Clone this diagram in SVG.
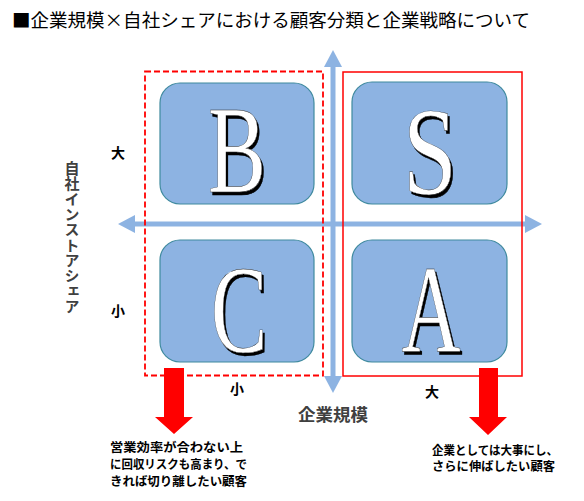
<svg xmlns="http://www.w3.org/2000/svg" width="584" height="501" viewBox="0 0 584 501">
<defs>
<filter id="shadow" x="-20%" y="-20%" width="150%" height="150%">
<feOffset in="SourceAlpha" dx="3" dy="3" result="off"/>
<feFlood flood-color="#000"/>
<feComposite in2="off" operator="in" result="sh"/>
<feMerge><feMergeNode in="sh"/><feMergeNode in="SourceGraphic"/></feMerge>
</filter>
<style>
.jp{font-family:"Noto Sans CJK JP","Noto Sans",sans-serif;}
.box{fill:#8DB3E2;stroke:#3F8A9E;stroke-width:1.2;}
.axis{stroke:#8DB3E2;stroke-width:5;fill:none;}
.axhead{fill:#8DB3E2;}
.letter{font-family:"Liberation Serif","Times New Roman",serif;font-size:124px;text-anchor:middle;fill:#fff;stroke:#222;stroke-width:0.4;filter:url(#shadow);}
.lbl{font-size:14px;font-weight:bold;fill:#000;text-anchor:middle;}
.note{font-size:12px;font-weight:bold;fill:#000;}
.red{fill:#FF0000;}
</style>
</defs>
<rect width="584" height="501" fill="#fff"/>
<text id="title" class="jp" x="12" y="27" font-size="18" fill="#000" textLength="518" lengthAdjust="spacingAndGlyphs">■企業規模×自社シェアにおける顧客分類と企業戦略について</text>

<g id="connectors">
<line class="axis" x1="133" y1="224" x2="527" y2="224"/>
<polygon class="axhead" points="118,224 135,215 135,233"/>
<polygon class="axhead" points="542,224 525,215 525,233"/>
<line class="axis" x1="333" y1="66" x2="333" y2="378"/>
<polygon class="axhead" points="333,50 324,67 342,67"/>
<polygon class="axhead" points="333,393 324,376 342,376"/>
<polygon class="red" points="164,368 184,368 184,417 193,417 174,434 155,417 164,417"/>
<polygon class="red" points="479,368 498,368 498,417 507,417 488,435 469,417 479,417"/>
</g>

<g id="group-low">
<rect x="145" y="71.5" width="178" height="304" fill="none" stroke="#FF0000" stroke-width="1.8" stroke-dasharray="6,3"/>
</g>
<g id="group-high">
<rect x="343" y="72" width="179" height="304" fill="none" stroke="#FF0000" stroke-width="1.5"/>
</g>

<g id="node-B">
<rect class="box" x="160" y="83" width="154" height="121" rx="20"/>
<text class="letter" transform="translate(237,192) scale(0.7,1)">B</text>
</g>
<g id="node-S">
<rect class="box" x="352" y="82" width="155" height="122" rx="20"/>
<text class="letter" transform="translate(430,194) scale(0.78,1)">S</text>
</g>
<g id="node-C">
<rect class="box" x="160" y="240" width="154" height="122" rx="20"/>
<text class="letter" transform="translate(239,352) scale(0.68,1)">C</text>
</g>
<g id="node-A">
<rect class="box" x="352" y="240" width="155" height="122" rx="20"/>
<text class="letter" transform="translate(431,352) scale(0.66,1)">A</text>
</g>

<g id="labels">
<text class="jp lbl" x="118" y="158">大</text>
<text class="jp lbl" x="118" y="316">小</text>
<text class="jp lbl" x="237" y="394">小</text>
<text class="jp lbl" x="432" y="397">大</text>
<text class="jp" x="298" y="421" font-size="17" font-weight="bold" fill="#404040" textLength="70" lengthAdjust="spacingAndGlyphs">企業規模</text>
<text class="jp" x="72" y="161" font-size="15" font-weight="bold" fill="#404040" style="writing-mode:vertical-rl" letter-spacing="0.3">自社インストアシェア</text>
</g>

<g id="note-left">
<text class="jp note" x="110" y="452" textLength="133" lengthAdjust="spacingAndGlyphs">営業効率が合わない上</text>
<text class="jp note" x="110" y="469" textLength="137" lengthAdjust="spacingAndGlyphs">に回収リスクも高まり、で</text>
<text class="jp note" x="110" y="486" textLength="137" lengthAdjust="spacingAndGlyphs">きれば切り離したい顧客</text>
</g>
<g id="note-right">
<text class="jp note" x="432" y="455" textLength="126" lengthAdjust="spacingAndGlyphs">企業としては大事にし、</text>
<text class="jp note" x="432" y="471" textLength="123" lengthAdjust="spacingAndGlyphs">さらに伸ばしたい顧客</text>
</g>
</svg>
